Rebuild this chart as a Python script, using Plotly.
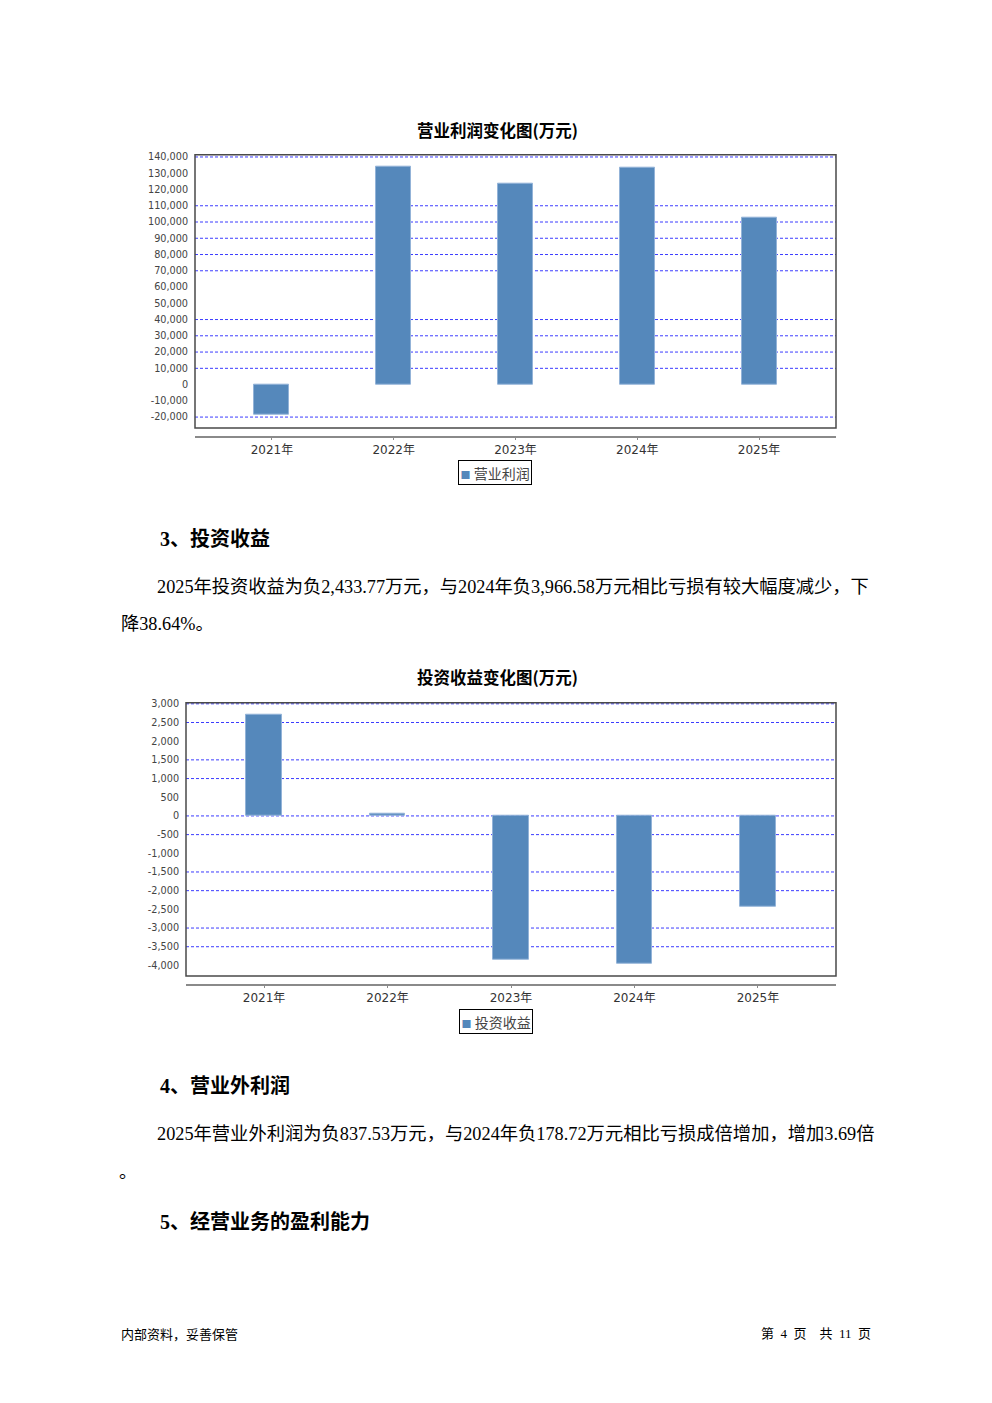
import plotly.graph_objects as go

# ---------------- data ----------------
years = ["2021年", "2022年", "2023年", "2024年", "2025年"]
operating_profit = [-18700, 133900, 123700, 133300, 102600]        # 营业利润 (万元)
investment_income = [2700, 60, -3860, -3966.58, -2433.77]           # 投资收益 (万元)

op_ticks = list(range(-20000, 140001, 10000))
inv_ticks = list(range(-4000, 3001, 500))
# grid levels that are visibly drawn in the reference
op_grid = [140000, 110000, 100000, 90000, 80000, 70000, 40000, 30000, 20000, 10000, -20000]
inv_grid = [3000, 2500, 1500, 1000, 0, -500, -1500, -2000, -3000, -3500]

chart1_title = "营业利润变化图(万元)"
chart2_title = "投资收益变化图(万元)"
legend1 = "营业利润"
legend2 = "投资收益"

W, H = 992, 1403
OFF = 8  # page body margin
def px(x):
    return (x - OFF) / W
def py(y):
    return 1 - (y - OFF) / H

BAR = "#5588bb"
BAR_EDGE = "#93b3d8"
GRID = "#3c3cff"
SANS = "DejaVu Sans, Noto Sans CJK SC"
CJK = "Noto Sans CJK SC"
SERIF = "Liberation Serif, Noto Sans CJK SC"

fig = go.Figure()
fig.add_trace(go.Bar(x=years, y=operating_profit, xaxis="x", yaxis="y",
                     width=0.288, marker=dict(color=BAR, line=dict(color=BAR_EDGE, width=1)),
                     name=legend1, showlegend=False))
fig.add_trace(go.Bar(x=years, y=investment_income, xaxis="x2", yaxis="y2",
                     width=0.288, marker=dict(color=BAR, line=dict(color=BAR_EDGE, width=1)),
                     name=legend2, showlegend=False))

xcommon = dict(type="category", range=[-0.632, 4.632], showline=True, linecolor="#8a8a8a",
               linewidth=1.5, ticks="outside", ticklen=2, tickcolor="#8a8a8a", showgrid=False,
               zeroline=False, tickfont=dict(family=SANS, size=12, color="#333333"),
               anchor="free", fixedrange=True)
ycommon = dict(showgrid=False, zeroline=False, showline=False,
               tickfont=dict(family="DejaVu Sans", size=9.7, color="#444444"),
               ticks="outside", ticklen=4, tickcolor="rgba(0,0,0,0)", fixedrange=True)

D1 = -2.5  # vertical fine-tuning chart 1
D2 = -1.5  # vertical fine-tuning chart 2
fig.update_layout(
    width=W, height=H, margin=dict(l=0, r=0, t=0, b=0),
    paper_bgcolor="white", plot_bgcolor="white", showlegend=False,
    bargap=0,
    xaxis=dict(domain=[px(195), px(836)], position=py(436 + D1), **xcommon),
    yaxis=dict(domain=[py(427 + D1), py(152.7 + D1)], anchor="x", range=[-26730, 141410],
               tickvals=op_ticks, ticktext=[f"{v:,}" for v in op_ticks], **ycommon),
    xaxis2=dict(domain=[px(186), px(836)], position=py(985.3 + D2), **xcommon),
    yaxis2=dict(domain=[py(976 + D2), py(701.7 + D2)], anchor="x2", range=[-4285, 3029],
                tickvals=inv_ticks, ticktext=[f"{v:,}" for v in inv_ticks], **ycommon),
)

shapes = []
for v in op_grid:
    shapes.append(dict(type="line", xref="x domain", yref="y", x0=0, x1=1, y0=v, y1=v,
                       line=dict(color=GRID, width=1, dash="3px,2px"), layer="below"))
for v in inv_grid:
    shapes.append(dict(type="line", xref="x2 domain", yref="y2", x0=0, x1=1, y0=v, y1=v,
                       line=dict(color=GRID, width=1, dash="3px,2px"), layer="below"))
shapes.append(dict(type="rect", xref="x domain", yref="y domain", x0=0, x1=1, y0=0, y1=1,
                   line=dict(color="#4a4a4a", width=1.5)))
shapes.append(dict(type="rect", xref="x2 domain", yref="y2 domain", x0=0, x1=1, y0=0, y1=1,
                   line=dict(color="#4a4a4a", width=1.5)))
fig.update_layout(shapes=shapes)

ann = []
def text(x, y, s, size, family=SERIF, color="#000000", xanchor="left", bold=False):
    ann.append(dict(x=px(x), y=py(y), xref="paper", yref="paper", text=f"<b>{s}</b>" if bold else s,
                    showarrow=False, xanchor=xanchor, yanchor="middle",
                    font=dict(family=family, size=size, color=color)))

# chart titles
text(497, 125, chart1_title, 16.5, family=CJK, xanchor="center", bold=True)
text(497, 674, chart2_title, 16.5, family=CJK, xanchor="center", bold=True)

# legends
for (cx, cy, label) in [(495, 469.5, legend1), (496, 1020, legend2)]:
    ann.append(dict(x=px(cx), y=py(cy), xref="paper", yref="paper", showarrow=False,
                    xanchor="center", yanchor="middle",
                    text=f"<span style='color:{BAR};font-size:10px'>■</span>&nbsp;{label}",
                    bordercolor="#000000", borderwidth=1, borderpad=1.5,
                    font=dict(family=CJK, size=14, color="#444444")))

# body text
text(158, 536, "3、投资收益", 20, bold=True)
text(155, 584, "2025年投资收益为负2,433.77万元，与2024年负3,966.58万元相比亏损有较大幅度减少，下", 18.25)
text(119, 621, "降38.64%。", 18.25)
text(158, 1084, "4、营业外利润", 20, bold=True)
text(155, 1133, "2025年营业外利润为负837.53万元，与2024年负178.72万元相比亏损成倍增加，增加3.69倍", 18.3)
text(117, 1171, "。", 18)
text(158, 1221, "5、经营业务的盈利能力", 20, bold=True)

# footer
text(119, 1333, "内部资料，妥善保管", 13, family=CJK)
text(873, 1333, "第&nbsp;&nbsp;4&nbsp;&nbsp;页&nbsp;&nbsp;&nbsp;&nbsp;共&nbsp;&nbsp;11&nbsp;&nbsp;页", 13, family=SERIF, xanchor="right")

fig.update_layout(annotations=ann)
fig.write_html("out.html")
